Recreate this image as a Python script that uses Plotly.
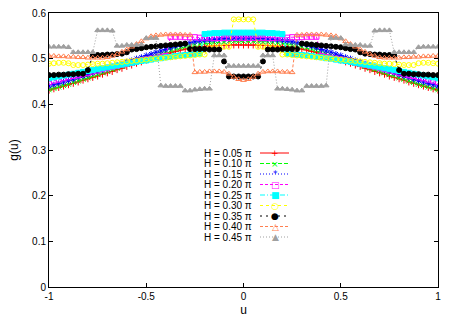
import numpy as np
import plotly.graph_objects as go

# u grid, step 0.025
u = np.linspace(-1, 1, 81)

g_005 = [.431, .434, .437, .440, .443, .446, .449, .453, .456, .459, .462, .466, .469, .472, .476, .479, .483, .486, .490, .493, .497,
         .500, .503, .507, .510, .513, .516, .519, .521, .523, .525, .526, .527, .528, .528, .529, .529, .530, .530, .530, .530,
         .530, .530, .530, .529, .529, .528, .528, .527, .526, .525, .523, .521, .519, .516, .513, .510, .507, .503, .500, .497,
         .493, .490, .486, .483, .479, .476, .472, .469, .466, .462, .459, .456, .453, .449, .446, .443, .440, .437, .434, .431]
g_010 = [.432, .435, .438, .441, .444, .448, .451, .455, .458, .462, .465, .469, .472, .476, .479, .483, .487, .490, .494, .497, .501,
         .504, .508, .511, .514, .518, .521, .524, .526, .529, .531, .532, .534, .535, .536, .537, .537, .538, .538, .538, .538,
         .538, .538, .538, .537, .537, .536, .535, .534, .532, .531, .529, .526, .524, .521, .518, .514, .511, .508, .504, .501,
         .497, .494, .490, .487, .483, .479, .476, .472, .469, .465, .462, .458, .455, .451, .448, .444, .441, .438, .435, .432]
g_015 = [.440, .443, .446, .449, .452, .455, .459, .462, .465, .469, .472, .475, .479, .482, .486, .489, .493, .496, .500, .503, .507,
         .510, .514, .517, .520, .524, .527, .530, .532, .535, .537, .539, .540, .541, .542, .543, .544, .544, .545, .545, .545,
         .545, .545, .544, .544, .543, .542, .541, .540, .539, .537, .535, .532, .530, .527, .524, .520, .517, .514, .510, .507,
         .503, .500, .496, .493, .489, .486, .482, .479, .475, .472, .469, .465, .462, .459, .455, .452, .449, .446, .443, .440]
g_020 = [.449, .452, .454, .457, .459, .462, .464, .467, .469, .472, .474, .477, .479, .482, .484, .487, .489, .491, .494, .496, .498,
         .500, .502, .504, .506, .548, .548, .548, .547, .547, .547, .546, .546, .546, .545, .545, .545, .545, .545, .545, .545,
         .545, .545, .545, .545, .545, .545, .546, .546, .546, .547, .547, .547, .548, .548, .548, .506, .504, .502, .500, .498,
         .496, .494, .491, .489, .487, .484, .482, .479, .477, .474, .472, .469, .467, .464, .462, .459, .457, .454, .452, .449]
g_025 = [.457, .459, .461, .463, .465, .467, .469, .471, .473, .475, .477, .479, .481, .483, .485, .487, .489, .491, .493, .495, .496,
         .498, .500, .501, .503, .504, .506, .507, .508, .509, .510, .511, .554, .555, .556, .556, .557, .557, .557, .557, .557,
         .557, .557, .557, .557, .556, .556, .555, .554, .511, .510, .509, .508, .507, .506, .504, .503, .501, .500, .498, .496,
         .495, .493, .491, .489, .487, .485, .483, .481, .479, .477, .475, .473, .471, .469, .467, .465, .463, .461, .459, .457]
g_030 = [.489, .490, .491, .491, .490, .486, .486, .486, .487, .488, .489, .489, .490, .491, .492, .493, .494, .495, .496, .497, .498,
         .499, .500, .501, .502, .503, .504, .505, .506, .507, .508, .509, .509, .524, .525, .525, .526, .526, .586, .586, .586,
         .586, .586, .526, .526, .525, .525, .524, .509, .509, .508, .507, .506, .505, .504, .503, .502, .501, .500, .499, .498,
         .497, .496, .495, .494, .493, .492, .491, .490, .489, .489, .488, .487, .486, .486, .486, .490, .491, .491, .490, .489]
g_035 = [.464, .464, .465, .465, .466, .466, .467, .467, .475, .507, .508, .508, .509, .509, .510, .511, .514, .520, .521, .523, .525,
         .526, .527, .528, .529, .530, .531, .532, .533, .521, .521, .521, .521, .520, .520, .520, .494, .461, .461, .461, .461,
         .461, .461, .461, .494, .520, .520, .520, .521, .521, .521, .521, .533, .532, .531, .530, .529, .528, .527, .526, .525,
         .523, .521, .520, .514, .511, .510, .509, .509, .508, .508, .507, .475, .467, .467, .466, .466, .465, .465, .464, .464]
g_040 = [.506, .506, .505, .505, .504, .504, .503, .503, .502, .502, .502, .502, .503, .506, .510, .515, .520, .526, .532, .538, .544,
         .549, .551, .552, .553, .553, .553, .553, .552, .552, .470, .471, .471, .472, .472, .472, .471, .467, .460, .455, .453,
         .455, .460, .467, .471, .472, .472, .472, .471, .471, .470, .552, .552, .553, .553, .553, .553, .552, .551, .549, .544,
         .538, .532, .526, .520, .515, .510, .506, .503, .502, .502, .502, .502, .503, .503, .504, .504, .505, .505, .506, .506]
g_045 = [.526, .526, .526, .526, .525, .514, .514, .514, .514, .514, .562, .562, .562, .561, .528, .528, .530, .530, .530, .531, .545,
         .545, .545, .441, .440, .440, .440, .440, .430, .430, .432, .433, .434, .434, .507, .507, .507, .484, .484, .484, .484,
         .484, .484, .484, .507, .507, .507, .434, .434, .433, .432, .430, .430, .440, .440, .440, .440, .441, .545, .545, .545,
         .531, .530, .530, .530, .528, .528, .561, .562, .562, .562, .514, .514, .514, .514, .514, .525, .526, .526, .526, .526]

series = [g_005, g_010, g_015, g_020, g_025, g_030, g_035, g_040, g_045]
labels = ['H = 0.05 π', 'H = 0.10 π', 'H = 0.15 π', 'H = 0.20 π', 'H = 0.25 π',
          'H = 0.30 π', 'H = 0.35 π', 'H = 0.40 π', 'H = 0.45 π']
colors = ['#ff0000', '#00ff00', '#0000ff', '#ff00ff', '#00ffff',
          '#ffff00', '#000000', '#ff7f50', '#a0a0a0']
symbols = ['cross-thin-open', 'x-thin-open', 'asterisk-open', 'square-open', 'square',
           'circle-open', 'circle', 'triangle-up-open', 'triangle-up']
glyphs = ['+', '×', '*', '□', '■', '○', '●', '△', '▲']
dashes = ['solid', '4px,2px', '1px,2px', '3px,2px', '5px,2px,1px,2px',
          '3px,3px', '2px,4px', '3px,2px', '1px,2px']

fig = go.Figure()
for ys, name, c, s, d in zip(series, labels, colors, symbols, dashes):
    fig.add_trace(go.Scatter(x=u, y=ys, mode='lines+markers', name=name,
                             line=dict(color=c, width=1, dash=d),
                             marker=dict(symbol=s, size=5, color=c,
                                         line=dict(color=c, width=1))))

# gnuplot-style key: text on the left, sample on the right
L, T, W, H = 49, 13, 389, 274
ann = []
shp = []
for k, (name, c, gl, d) in enumerate(zip(labels, colors, glyphs, dashes)):
    yk = 1 - (153 + 10.5 * k - T) / H
    ann.append(dict(x=(254 - L) / W, y=yk, xref='paper', yref='paper', text=name,
                    showarrow=False, xanchor='right', yanchor='middle',
                    font=dict(size=10, color='#000')))
    ann.append(dict(x=(275 - L) / W, y=yk, xref='paper', yref='paper', text=gl,
                    showarrow=False, xanchor='center', yanchor='middle',
                    font=dict(size=9, color=c, family='DejaVu Sans')))
    shp.append(dict(type='line', xref='paper', yref='paper', x0=(260 - L) / W, x1=(289 - L) / W,
                    y0=yk, y1=yk, line=dict(color=c, width=1, dash=d)))

axis = dict(showline=True, linecolor='#000', linewidth=1, mirror='ticks', ticks='inside',
            ticklen=4, tickcolor='#000', showgrid=False, zeroline=False, automargin=False,
            tickfont=dict(size=10, color='#000'))
fig.update_layout(
    width=457, height=320,
    margin=dict(l=L, r=457 - L - W, t=T, b=320 - T - H, autoexpand=False),
    paper_bgcolor='white', plot_bgcolor='white',
    font=dict(family='Liberation Sans', size=10, color='#000'),
    showlegend=False, hovermode=False,
    annotations=ann, shapes=shp,
    xaxis=dict(axis, range=[-1, 1], tickvals=[-1, -0.5, 0, 0.5, 1],
               ticktext=['-1', '-0.5', '0', '0.5', '1'],
               title=dict(text='u', standoff=4)),
    yaxis=dict(axis, range=[0, 0.6], tickvals=[0, 0.1, 0.2, 0.3, 0.4, 0.5, 0.6],
               ticktext=['0', '0.1', '0.2', '0.3', '0.4', '0.5', '0.6'],
               title=dict(text='g(u)', standoff=10)),
)

fig.write_html("out.html", config={'displayModeBar': False},
               post_script="document.body.style.margin='0';")
